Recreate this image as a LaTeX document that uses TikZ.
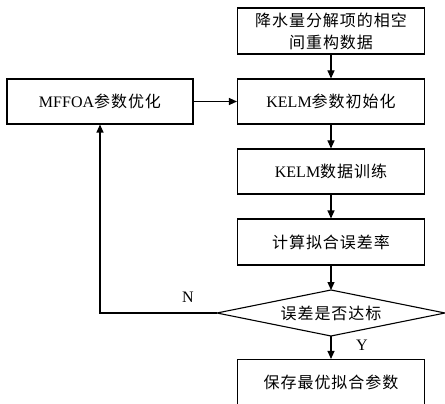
\documentclass[tikz,border=0pt]{standalone}
\usepackage{fontspec}
\setmainfont{Liberation Serif}
\newfontfamily\cjk{Noto Sans CJK SC}[LetterSpace=6]
\usetikzlibrary{arrows.meta}
\begin{document}
\begin{tikzpicture}[x=1pt,y=-1pt,
  box/.style={draw, line width=1.1pt, minimum width=187pt, minimum height=45pt,
    inner sep=0pt, font=\fontsize{16}{22}\selectfont, align=center},
  lbl/.style={inner sep=0pt, font=\fontsize{16}{22}\selectfont},
  arr/.style={line width=1.1pt, -{Triangle[length=8pt,width=7pt]}},
  ln/.style={line width=1.1pt}]
\useasboundingbox (0,0) rectangle (445,404);
\node[box, minimum height=46pt] (top) at (331,31) {{\cjk 降水量分解项的相空}\\{\cjk 间重构数据}};
\node[box] (init) at (331,101.5) {KELM{\cjk 参数初始化}};
\node[box, minimum width=186pt] (mf) at (100,101.5) {MFFOA{\cjk 参数优化}};
\node[box] (train) at (331,171.5) {KELM{\cjk 数据训练}};
\node[box, minimum height=46pt] (calc) at (331,242) {{\cjk 计算拟合误差率}};
\node[lbl] (dec) at (331,313) {{\cjk 误差是否达标}};
\coordinate (dT) at (331,290);
\coordinate (dB) at (331,336);
\coordinate (dL) at (217,313);
\coordinate (dR) at (445,313);
\draw[ln] (dT) -- (dR) -- (dB) -- (dL) -- cycle;
\node[box, minimum height=47pt, text depth=0pt] (save) at (331,383) {\raisebox{2pt}{\cjk 保存最优拟合参数}};
\node[lbl] (N) at (188,297) {N};
\node[lbl] (Y) at (362,345) {Y};
\draw[arr] (top) -- (init);
\draw[arr] (mf) -- (init);
\draw[arr] (init) -- (train);
\draw[arr] (train) -- (calc);
\draw[arr] (calc) -- (dT);
\draw[arr] (dB) -- (save);
\draw[arr] (dL) -| (mf.south);
\end{tikzpicture}
\end{document}
